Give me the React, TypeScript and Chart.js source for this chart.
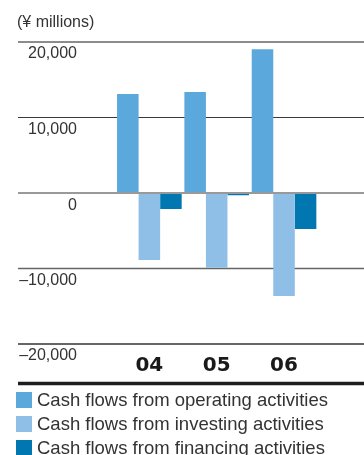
import React, { useEffect, useRef } from "react";
import { Chart, registerables } from "chart.js";

Chart.register(...registerables);

const categories = ["04", "05", "06"];
const operating = [13100, 13380, 19050];
const investing = [-8870, -9900, -13640];
const financing = [-2120, -300, -4770];
const yTicks = [20000, 10000, 0, -10000, -20000];
const yTickLabels = ["20,000", "10,000", "0", "\u201310,000", "\u201320,000"];
const seriesNames = [
  "Cash flows from operating activities",
  "Cash flows from investing activities",
  "Cash flows from financing activities",
];
const seriesColors = ["#5ba8dc", "#8fbee6", "#0077b0"];

const W = 364;
const H = 455;

const overlayPlugin = {
  id: "overlay",
  beforeDatasetsDraw(chart: any) {
    const ctx = chart.ctx;
    const y = chart.scales.y;
    const styles: Record<number, [string, number]> = {
      20000: ["#8c8c8c", 2],
      10000: ["#3a3a3a", 1.2],
      [-10000]: ["#666666", 1.3],
      [-20000]: ["#333333", 1.4],
    };
    ctx.save();
    yTicks.forEach((v, i) => {
      const py = y.getPixelForValue(v);
      const st = styles[v];
      if (st) {
        ctx.strokeStyle = st[0];
        ctx.lineWidth = st[1];
        ctx.beginPath();
        ctx.moveTo(18, py);
        ctx.lineTo(W, py);
        ctx.stroke();
      }
      ctx.fillStyle = "#333";
      ctx.font = "16px 'Liberation Sans', Arial, sans-serif";
      ctx.textAlign = "right";
      ctx.textBaseline = "middle";
      ctx.fillText(yTickLabels[i], 77, py + (v === 0 ? 13 : 12));
    });
    // category labels
    const x = chart.scales.x;
    ctx.fillStyle = "#1a1a1a";
    ctx.font = "bold 20px 'DejaVu Sans', sans-serif";
    ctx.textAlign = "center";
    ctx.textBaseline = "middle";
    categories.forEach((c, i) => {
      ctx.fillText(c, x.getPixelForValue(i), 366);
    });
    // bottom thick rule
    ctx.strokeStyle = "#1e1e1e";
    ctx.lineWidth = 3.5;
    ctx.beginPath();
    ctx.moveTo(18, 383.5);
    ctx.lineTo(W, 383.5);
    ctx.stroke();
    ctx.restore();
  },
  afterDatasetsDraw(chart: any) {
    const ctx = chart.ctx;
    const py = chart.scales.y.getPixelForValue(0);
    ctx.save();
    ctx.strokeStyle = "#999999";
    ctx.lineWidth = 2;
    ctx.beginPath();
    ctx.moveTo(18, py);
    ctx.lineTo(W, py);
    ctx.stroke();
    ctx.restore();
  },
};

export default function App() {
  const ref = useRef<HTMLCanvasElement | null>(null);
  useEffect(() => {
    if (!ref.current) return;
    const chart = new Chart(ref.current, {
      type: "bar",
      data: {
        labels: categories,
        datasets: [
          { label: seriesNames[0], data: operating, backgroundColor: seriesColors[0] },
          { label: seriesNames[1], data: investing, backgroundColor: seriesColors[1] },
          { label: seriesNames[2], data: financing, backgroundColor: seriesColors[2] },
        ],
      },
      options: {
        animation: false,
        responsive: false,
        layout: { padding: { left: 115.7, right: W - 317.7, top: 42, bottom: H - 344 } },
        datasets: { bar: { categoryPercentage: 0.96, barPercentage: 1 } },
        scales: {
          x: { display: false },
          y: { display: false, min: -20000, max: 20000 },
        },
        plugins: { legend: { display: false }, tooltip: { enabled: false }, title: { display: false } },
      },
      plugins: [overlayPlugin],
    });
    return () => chart.destroy();
  }, []);

  const font = "'Liberation Sans', Arial, sans-serif";
  return (
    <div style={{ position: "absolute", left: 0, top: 0, width: W, height: H, overflow: "hidden", background: "#fff" }}>
      <canvas ref={ref} width={W} height={H} style={{ position: "absolute", left: 0, top: 0, width: W, height: H }} />
      <div
        style={{
          position: "absolute",
          left: 17,
          top: 12,
          fontFamily: font,
          fontSize: 16,
          lineHeight: "20px",
          color: "#333",
        }}
      >
        (¥ millions)
      </div>
      {seriesNames.map((n, i) => (
        <div
          key={n}
          style={{ position: "absolute", left: 16, top: 388 + i * 24, height: 24, display: "flex", alignItems: "center" }}
        >
          <span style={{ display: "inline-block", width: 16, height: 16, background: seriesColors[i] }} />
          <span
            style={{
              marginLeft: 5,
              fontFamily: font,
              fontSize: 18.5,
              lineHeight: "24px",
              color: "#333",
              whiteSpace: "nowrap",
            }}
          >
            {n}
          </span>
        </div>
      ))}
    </div>
  );
}
